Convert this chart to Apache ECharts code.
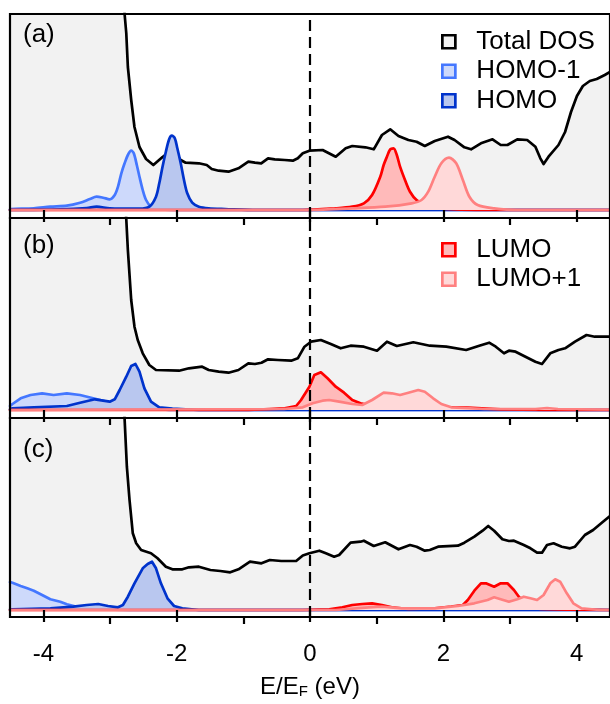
<!DOCTYPE html>
<html><head><meta charset="utf-8">
<script src="https://cdn.jsdelivr.net/npm/echarts@6/dist/echarts.min.js"></script>
<style>html,body{margin:0;padding:0;background:#fff}#c{width:610px;height:704px}</style>
</head><body><div id="c"></div>
<script>
const majorTicks = [-4, -2, 0, 2, 4];
const minorTicks = [-3, -1, 1, 3];
const panelLabels = ['(a)', '(b)', '(c)'];
const seriesNames = ['Total DOS', 'HOMO-1', 'HOMO', 'LUMO', 'LUMO+1'];

// Panel (a)
const aTotal = [[-4.5,600],[-2.80,240],[-2.781,196],[-2.756,177],[-2.732,143],[-2.682,110],[-2.633,83],[-2.558,63],[-2.459,51],[-2.350,45],[-2.212,53],[-2.113,58],[-2.009,56],[-1.939,50],[-1.865,47.3],[-1.667,46.7],[-1.549,45],[-1.474,41],[-1.370,39.3],[-1.222,38.3],[-1.073,41.7],[-0.925,48.3],[-0.826,47.3],[-0.732,46.7],[-0.629,51.7],[-0.529,50.7],[-0.380,50],[-0.257,49.3],[-0.183,51.7],[-0.108,56.7],[-0.009,59.3],[0.189,60],[0.386,53.3],[0.535,61.7],[0.634,64],[0.831,62.7],[0.956,60.7],[1.079,75],[1.203,80.7],[1.327,74],[1.476,70],[1.599,68.3],[1.722,64],[1.871,69],[2.070,73.3],[2.168,70],[2.316,62.7],[2.416,60.7],[2.564,66.7],[2.738,70.7],[2.861,65],[2.961,65],[3.109,70.7],[3.258,70],[3.381,63.3],[3.455,51.7],[3.504,46],[3.578,53.3],[3.727,65],[3.826,78],[3.915,98],[4.004,114],[4.093,124],[4.197,129],[4.301,131],[4.421,135],[4.5,138]];
const aHomo1 = [[-4.5,0.5],[-4.489,1],[-4.143,1.7],[-3.895,3.3],[-3.647,4.3],[-3.449,7.3],[-3.301,11],[-3.201,13.3],[-3.103,12.3],[-3.004,10.7],[-2.929,15],[-2.880,23.3],[-2.830,36.7],[-2.781,46.7],[-2.732,55],[-2.682,59.3],[-2.643,56.7],[-2.598,45],[-2.558,33.3],[-2.509,20],[-2.459,10],[-2.385,3.3],[-2.29,1],[-2.04,0],[4.5,0]];
const aHomo = [[-4.5,0],[-3.744,0.7],[-3.35,2],[-3.201,3.3],[-3.004,1.7],[-2.558,1.3],[-2.409,3.3],[-2.310,13.3],[-2.261,26.7],[-2.212,43.3],[-2.162,58.3],[-2.113,70.7],[-2.073,74.3],[-2.028,71.7],[-1.990,61.7],[-1.939,46.7],[-1.890,30],[-1.841,16.7],[-1.767,7.3],[-1.667,3.3],[-1.519,1.7],[-1.271,1],[-0.8,0],[4.5,0]];
const aLumo = [[-4.5,0],[-0.108,0],[0.386,1.7],[0.634,3.3],[0.808,6.7],[0.931,15],[1.054,33.3],[1.105,45],[1.154,53.3],[1.203,60.7],[1.253,61.7],[1.302,55],[1.351,43.3],[1.425,30],[1.500,18.3],[1.599,10],[1.773,3.3],[2.045,1],[2.49,0],[4.5,0]];
const aLumo1 = [[-4.5,0],[-0.108,0],[0.634,1.7],[1.128,3.3],[1.525,6.7],[1.673,10],[1.773,18.3],[1.871,33.3],[1.970,46.7],[2.085,52.3],[2.193,46.7],[2.293,30],[2.391,13.3],[2.515,5],[2.762,1.7],[3.109,0],[4.5,0]];

// Panel (b)
const bTotal = [[-4.5,600],[-2.80,240],[-2.756,191],[-2.732,160],[-2.682,110],[-2.633,83.3],[-2.584,70],[-2.509,56.7],[-2.410,45],[-2.310,40],[-1.964,39.3],[-1.816,41.7],[-1.618,43.3],[-1.519,40],[-1.370,38.3],[-1.222,37.3],[-1.073,40],[-0.925,46.7],[-0.826,46],[-0.728,47.3],[-0.629,50.7],[-0.480,50],[-0.282,49.3],[-0.183,51.7],[-0.083,63.3],[0.015,68.3],[0.163,70],[0.312,66],[0.460,61.7],[0.609,64.3],[0.808,63.3],[1.005,59.3],[1.154,68.3],[1.302,64],[1.550,67.7],[1.797,64.3],[2.045,63.3],[2.342,60],[2.539,64.3],[2.687,67.3],[2.787,63.3],[2.910,56.7],[2.984,59.3],[3.084,58.3],[3.232,53.3],[3.381,48.3],[3.480,46],[3.604,56.7],[3.727,60],[3.826,61.7],[3.975,68.3],[4.148,75],[4.272,73.3],[4.5,73.3]];
const bHomo1 = [[-4.5,4],[-4.463,6],[-4.340,11.7],[-4.192,15],[-4.018,16.7],[-3.846,15],[-3.647,16.7],[-3.449,15],[-3.252,11.7],[-3.103,9.3],[-2.978,7.3],[-2.781,4],[-2.558,2.7],[-2.361,1.3],[-2.113,0],[4.5,0]];
const bHomo = [[-4.5,0.5],[-4.463,1.7],[-4.143,2.7],[-3.647,4],[-3.449,7.3],[-3.226,10.7],[-3.103,9.3],[-3.004,8.3],[-2.929,10.7],[-2.855,20],[-2.756,33.3],[-2.682,44],[-2.618,46],[-2.558,38.3],[-2.484,21.7],[-2.385,8.3],[-2.261,2.7],[-2.064,1.3],[-1.667,0],[4.5,0]];
const bLumo = [[-4.5,0],[-0.925,0],[-0.380,1.7],[-0.208,4],[-0.134,10],[-0.009,23.3],[0.065,35],[0.163,37.7],[0.263,31.7],[0.386,23.3],[0.511,17.3],[0.634,10],[0.757,6.7],[0.882,5],[1.128,4],[2.119,2.7],[2.367,2.3],[2.861,0.7],[3.5,0],[4.5,0]];
const bLumo1 = [[-4.5,0],[-0.39,1],[-0.108,2.7],[0.040,6.7],[0.189,9.3],[0.288,10],[0.437,8.3],[0.634,6],[0.783,5],[0.931,10],[1.105,17.3],[1.228,16.7],[1.351,15],[1.476,17.3],[1.624,20],[1.722,18.3],[1.847,11.7],[1.970,6],[2.119,2.7],[2.613,1],[3.381,1],[3.555,2],[3.72,1],[4.346,0.5],[4.5,0.5]];

// Panel (c)
const cTotal = [[-4.5,600],[-2.80,230],[-2.781,191],[-2.747,143.3],[-2.707,110],[-2.658,76.7],[-2.607,66.7],[-2.533,60],[-2.385,56.7],[-2.287,51.7],[-2.162,43.3],[-2.064,40.7],[-1.915,40.7],[-1.816,42.7],[-1.667,43.3],[-1.494,40],[-1.345,39],[-1.197,37.7],[-1.073,40.7],[-0.900,48.3],[-0.728,46.7],[-0.603,50],[-0.431,49],[-0.208,49],[-0.108,54.5],[-0.009,56.7],[0.140,59.3],[0.238,56.7],[0.362,53.3],[0.437,55],[0.609,67.3],[0.757,68.3],[0.808,69.3],[0.956,64],[1.128,67.7],[1.327,60.7],[1.500,65],[1.599,63.3],[1.722,59.3],[1.797,60],[1.921,63.3],[2.218,64.3],[2.316,67.3],[2.465,73.3],[2.589,79.3],[2.673,84],[2.762,79.3],[2.886,70.7],[2.984,69],[3.059,69.3],[3.207,65],[3.307,61.7],[3.406,57.3],[3.480,57.3],[3.555,65],[3.653,66.7],[3.777,63.3],[3.900,61.7],[3.975,63.3],[4.123,75],[4.247,80],[4.395,88.3],[4.5,94]];
const cHomo1 = [[-4.5,28],[-4.463,27.3],[-4.340,24],[-4.241,21.7],[-4.143,19.3],[-4.018,15],[-3.895,10.7],[-3.746,8.3],[-3.647,5.7],[-3.498,3.3],[-3.350,1.7],[-3.15,0.5],[-2.707,0],[4.5,0]];
const cHomo = [[-4.5,0.5],[-4.463,0.7],[-3.895,1.7],[-3.549,3.3],[-3.350,5],[-3.177,6],[-3.029,4],[-2.880,2.7],[-2.806,5],[-2.732,13.3],[-2.633,26.7],[-2.509,41.7],[-2.435,46],[-2.370,48.3],[-2.310,41.7],[-2.236,26.7],[-2.138,11.7],[-2.039,4],[-1.915,1.7],[-1.667,0],[4.5,0]];
const cLumo = [[-4.5,0],[-0.108,0],[0.288,0.7],[0.486,2.7],[0.634,5],[0.783,6],[0.931,6.7],[1.079,5],[1.228,2.7],[1.476,1],[1.871,1.7],[2.119,3.3],[2.293,5],[2.367,10],[2.465,19.3],[2.564,26.7],[2.639,26.7],[2.762,23.3],[2.861,26.7],[2.961,26.7],[3.059,20],[3.133,13.3],[3.258,3.3],[3.455,1],[3.852,0.3],[4.5,0]];
const cLumo1 = [[-4.5,0],[0.386,0],[0.882,2.7],[1.079,3.3],[1.376,1.7],[1.871,1.7],[2.218,4],[2.465,6.7],[2.664,10],[2.762,12.7],[2.861,10.7],[2.984,8.3],[3.109,10.7],[3.207,13.3],[3.307,11.7],[3.406,10],[3.504,15],[3.604,26.7],[3.678,30.7],[3.752,28.3],[3.852,16.7],[3.950,6.7],[4.074,1.7],[4.346,0],[4.5,0]];

const panels = [
  [aTotal, aHomo1, aHomo, aLumo, aLumo1],
  [bTotal, bHomo1, bHomo, bLumo, bLumo1],
  [cTotal, cHomo1, cHomo, cLumo, cLumo1]
];

const FONT = "'Liberation Sans', Arial, Helvetica, sans-serif";
const lineColors = ['#000000', '#4477ff', '#0033cc', '#ff0000', '#ff8080'];
const fillColors = ['#f2f2f2', '#cdd9fb', '#b9c7ef', '#ffbaba', '#ffd9d9'];
const gridBoxes = [{top: 14, height: 204}, {top: 218, height: 200}, {top: 418, height: 199}];
const yRanges = [[-8, 196], [-8, 192], [-7, 192]];
const labelY = [37, 248, 452];

const grids = gridBoxes.map(g => ({
  left: 10, width: 605, top: g.top, height: g.height,
  show: true, borderColor: '#000', borderWidth: 2.2, backgroundColor: 'transparent', z: 10
}));

const xAxes = [];
gridBoxes.forEach((g, i) => {
  xAxes.push({
    type: 'value', gridIndex: i, min: -4.5, max: 4.5, position: 'bottom', z: 10,
    axisLine: {show: false}, splitLine: {show: false},
    axisTick: {show: true, customValues: majorTicks, length: 12, lineStyle: {color: '#000', width: 2.2}},
    axisLabel: {show: i === 2, customValues: majorTicks, fontSize: 24, color: '#000', fontFamily: FONT, margin: 25},
    name: i === 2 ? '{n|E/E}{s|F}{n| (eV)}' : '',
    nameLocation: 'middle', nameGap: 52,
    nameTextStyle: {
      color: '#000', fontFamily: FONT,
      rich: {
        n: {fontSize: 24, fontFamily: FONT, color: '#000', lineHeight: 30, verticalAlign: 'bottom'},
        s: {fontSize: 15, fontFamily: FONT, color: '#000', lineHeight: 16, verticalAlign: 'bottom'}
      }
    }
  });
  xAxes.push({
    type: 'value', gridIndex: i, min: -4.5, max: 4.5, position: 'bottom', z: 10,
    axisLine: {show: false}, splitLine: {show: false},
    axisTick: {show: true, customValues: minorTicks, length: 7, lineStyle: {color: '#000', width: 2.2}},
    axisLabel: {show: false, customValues: minorTicks}
  });
});

const yAxes = yRanges.map((r, i) => ({
  type: 'value', gridIndex: i, min: r[0], max: r[1], show: false, splitLine: {show: false}
}));

const series = [];
panels.forEach((pdata, p) => {
  pdata.forEach((d, k) => {
    const s = {
      type: 'line', name: seriesNames[k], data: d,
      xAxisIndex: p * 2, yAxisIndex: p,
      symbol: 'none', showSymbol: false,
      smooth: (p === 0 && k > 0) ? 0.3 : false,
      lineStyle: {color: lineColors[k], width: 2.7, join: 'round', cap: 'round'},
      itemStyle: {color: lineColors[k]},
      areaStyle: {color: fillColors[k], opacity: 1},
      z: 2 + k * 0.01, animation: false, silent: true
    };
    if (k === pdata.length - 1) {
      s.markLine = {
        silent: true, symbol: ['none', 'none'], animation: false,
        label: {show: false},
        lineStyle: {color: '#000', type: [11, 6], width: 2.2},
        data: [{xAxis: 0}]
      };
    }
    series.push(s);
  });
});

function legendItem(name) {
  const k = seriesNames.indexOf(name);
  return {name: name, icon: 'rect', itemStyle: {color: fillColors[k], borderColor: lineColors[k], borderWidth: 2.7}};
}
const legendCommon = {
  orient: 'vertical', left: 441, padding: 0, itemWidth: 13, itemHeight: 13, itemGap: 0,
  selectedMode: false, icon: 'rect',
  textStyle: {fontSize: 26, fontFamily: FONT, color: '#000', lineHeight: 29.5, padding: [0, 0, 0, 16]}
};

const option = {
  backgroundColor: '#fff',
  animation: false,
  grid: grids,
  xAxis: xAxes,
  yAxis: yAxes,
  legend: [
    Object.assign({}, legendCommon, {top: 27, data: ['Total DOS', 'HOMO-1', 'HOMO'].map(legendItem)}),
    Object.assign({}, legendCommon, {top: 235, data: ['LUMO', 'LUMO+1'].map(legendItem)})
  ],
  graphic: panelLabels.map((t, i) => ({
    type: 'text', left: 23, top: labelY[i] - 15, z: 20,
    style: {text: t, fontSize: 26, fontFamily: FONT, fill: '#000'}
  })),
  series: series
};

const chart = echarts.init(document.getElementById('c'), null, {renderer: 'canvas'});
chart.setOption(option);
</script>
</body></html>
